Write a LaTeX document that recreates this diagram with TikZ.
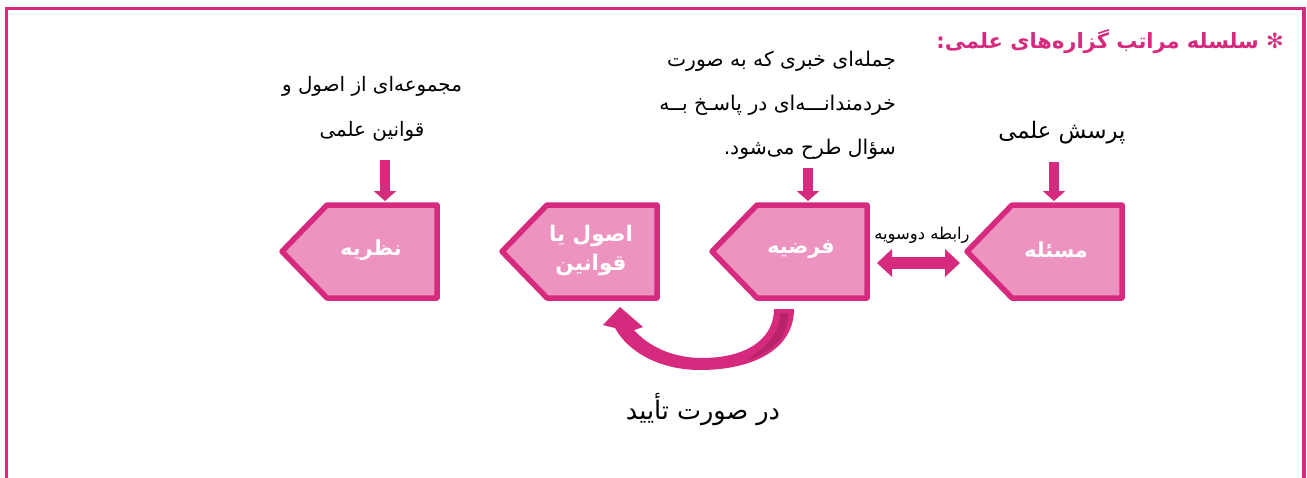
\documentclass[tikz,border=0pt]{standalone}
\usepackage{fontspec}
\usetikzlibrary{arrows.meta}
\TeXXeTstate=1
\newfontfamily\fa[Script=Arabic]{DejaVu Sans}
\definecolor{pinkdark}{HTML}{D62A7E}
\definecolor{pinklight}{HTML}{EC93BF}
\definecolor{pinkshade}{HTML}{B8236A}
\newcommand\pentabox[1]{%
  \path[box] (#1-110,205) -- (#1,205) -- (#1,298) -- (#1-110,298) -- (#1-155,251.5) -- cycle;}
\begin{document}
\begin{tikzpicture}[x=1pt,y=-1pt,
  box/.style={draw=pinkdark, fill=pinklight, line width=5.5pt, line join=round},
  boxtext/.style={text=white, font=\fa\bfseries\fontsize{20.7}{27}\selectfont, align=center, inner sep=0pt},
  desc/.style={font=\fa\fontsize{20.3}{24}\selectfont, inner sep=0pt},
  downarrow/.style={draw=pinkdark, line width=10pt, -{Triangle[width=22pt,length=10pt]}},
  bothway/.style={draw=pinkdark, line width=12pt, {Triangle[width=27pt,length=15pt]}-{Triangle[width=27pt,length=15pt]}}]
\useasboundingbox (0,0) rectangle (1307,477);
% frame
\draw[pinkdark, line width=3.5pt] (6.5,480) -- (6.5,8.5) -- (1304,8.5) -- (1304,480);
% title
\node[anchor=east, text=pinkdark, font=\fa\bfseries\fontsize{21}{25}\selectfont, inner sep=0pt] (title) at (1284,42) {\beginR ✻ سلسله مراتب گزاره‌های علمی:\endR};
% boxes
\pentabox{1122}
\pentabox{867}
\pentabox{657}
\pentabox{437}
\node[boxtext] (masale) at (1056,250) {\beginR مسئله\endR};
\node[boxtext] (farzie) at (801,250) {\beginR فرضیه\endR};
\node[boxtext, font=\fa\bfseries\fontsize{21.5}{29}\selectfont] (osul) at (591,250) {\beginR اصول یا\endR\\\beginR قوانین\endR};
\node[boxtext] (nazarie) at (371,250) {\beginR نظریه\endR};
% descriptions
\node[desc, font=\fa\fontsize{22.7}{27}\selectfont] (porsesh) at (1062,133) {\beginR پرسش علمی\endR};
\node[desc, anchor=east] (h1) at (896,61) {\beginR جمله‌ای خبری که به صورت\endR};
\node[desc, anchor=east] (h2) at (896,105) {\beginR خردمندانـــه‌ای در پاسـخ بــه\endR};
\node[desc, anchor=east] (h3) at (896,149) {\beginR سؤال طرح می‌شود.\endR};
\node[desc, font=\fa\fontsize{19.9}{24}\selectfont] (t1) at (372,86) {\beginR مجموعه‌ای از اصول و\endR};
\node[desc, font=\fa\fontsize{19.9}{24}\selectfont] (t2) at (372,131) {\beginR قوانین علمی\endR};
\node[desc, font=\fa\fontsize{16.4}{20}\selectfont] (rabete) at (922,235) {\beginR رابطه دوسویه\endR};
\node[desc, font=\fa\fontsize{25.5}{30}\selectfont] (taeed) at (703,410) {\beginR در صورت تأیید\endR};
% arrow anchor points
\coordinate (m-a) at (1054,162); \coordinate (m-top) at (1054,201);
\coordinate (f-a) at (808,168);  \coordinate (f-top) at (808,201);
\coordinate (n-a) at (385,160);  \coordinate (n-top) at (385,201);
\coordinate (da-l) at (877,263); \coordinate (da-r) at (960,263);
\draw[downarrow] (m-a) -- (m-top);
\draw[downarrow] (f-a) -- (f-top);
\draw[downarrow] (n-a) -- (n-top);
\draw[bothway] (da-l) -- (da-r);
% curved arrow
\fill[pinkdark] (794,309) .. controls (794,350) and (752,370) .. (700,370)
  .. controls (660,370) and (628,352) .. (615,328)
  -- (603,325) -- (620,307) -- (643,327) -- (634,330)
  .. controls (650,348) and (675,358) .. (702,358)
  .. controls (745,358) and (774,340) .. (774,309) -- cycle;
\fill[pinkshade] (788,313) .. controls (788,338) and (772,352) .. (745,361)
  .. controls (766,348) and (780,334) .. (780,313) -- cycle;
\end{tikzpicture}
\end{document}
